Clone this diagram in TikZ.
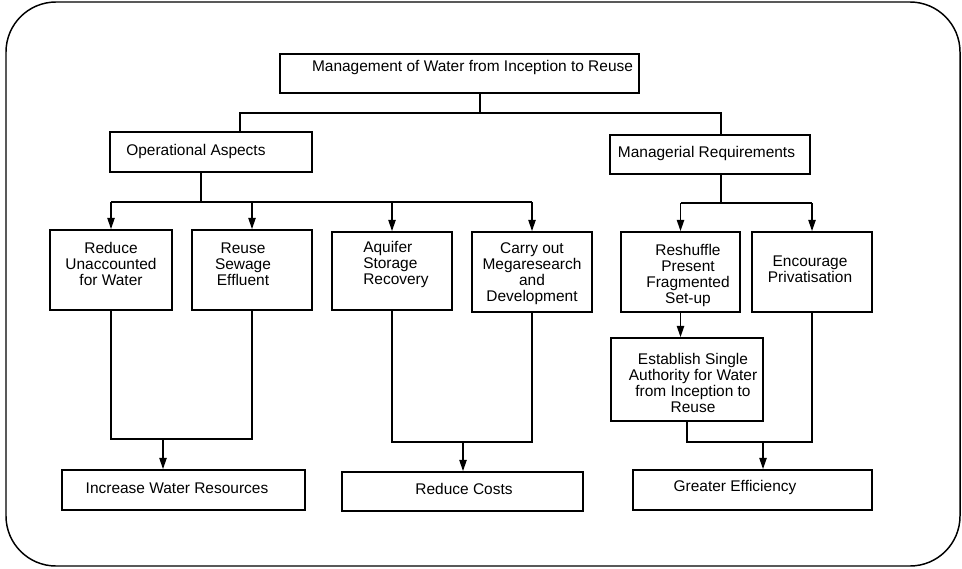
\documentclass[tikz,border=0pt]{standalone}
\usepackage{fontspec}
\setmainfont{Liberation Sans}
\usetikzlibrary{arrows.meta}
\begin{document}
\begin{tikzpicture}[x=0.75pt,y=-0.75pt,
  box/.style={draw, line width=1.3pt, inner sep=0pt},
  txt/.style={font=\fontsize{11.6pt}{12pt}\selectfont, align=center, inner sep=0pt},
  conn/.style={line width=1.2pt},
  arr/.style={line width=1.2pt, -{Triangle[length=8.5pt,width=5.5pt]}}]
\useasboundingbox (0,0) rectangle (962,568);
\draw[line width=1.1pt, rounded corners=37.5pt] (6,2) rectangle (960,566);

% boxes
\node[box, minimum width=269.25pt, minimum height=29.25pt] (title) at (459.5,73.5) {};
\node[box, minimum width=151.5pt, minimum height=30pt] (op) at (211,152) {};
\node[box, minimum width=150pt, minimum height=29.25pt] (mgr) at (710,154.5) {};
\node[box, minimum width=91.5pt, minimum height=60pt] (b1) at (111,270) {};
\node[box, minimum width=90pt, minimum height=60pt] (b2) at (252,270) {};
\node[box, minimum width=90pt, minimum height=58.5pt] (b3) at (392,271) {};
\node[box, minimum width=90pt, minimum height=60pt] (b4) at (532,272) {};
\node[box, minimum width=89.25pt, minimum height=60pt] (b5) at (680.5,272) {};
\node[box, minimum width=90pt, minimum height=60pt] (b6) at (812,272) {};
\node[box, minimum width=114pt, minimum height=62.25pt] (est) at (687,379.5) {};
\node[box, minimum width=182.25pt, minimum height=30pt] (inc) at (183.5,490) {};
\node[box, minimum width=180.75pt, minimum height=29.25pt] (red) at (462.5,491.5) {};
\node[box, minimum width=179.25pt, minimum height=30pt] (gre) at (752.5,490) {};

% texts
\node[txt] (ttitle) at (472.5,67) {Management of Water from Inception to Reuse};
\node[txt, anchor=west] (top) at (126,151) {Operational Aspects};
\node[txt] (tmgr) at (706.5,153) {Managerial Requirements};
\node[txt] (tb1) at (111,264) {Reduce\\Unaccounted\\for Water};
\node[txt] (tb2) at (243,264) {Reuse\\Sewage\\Effluent};
\node[txt, anchor=west, align=left] (tb3) at (363,264) {Aquifer\\Storage\\Recovery};
\node[txt] (tb4) at (532,274) {Carry out\\Megaresearch\\and\\Development};
\node[txt] (tb5) at (688,275) {Reshuffle\\Present\\Fragmented\\Set-up};
\node[txt] (tb6) at (810,269.5) {Encourage\\Privatisation};
\node[txt] (test) at (693,383) {Establish Single\\Authority for Water\\from Inception to\\Reuse};
\node[txt] (tinc) at (177,488) {Increase Water Resources};
\node[txt] (tred) at (464,489) {Reduce Costs};
\node[txt] (tgre) at (735,487) {Greater Efficiency};

% top connectors
\coordinate (j0) at (480,113);
\coordinate (jL) at (240,113);
\coordinate (jR) at (721,113);
\draw[conn] (title.south -| j0) -- (j0);
\draw[conn] (op.north -| jL) -- (jL) -- (jR) -- (mgr.north -| jR);

% operational branch
\coordinate (jo) at (201,202);
\draw[conn] (op.south -| jo) -- (jo);
\draw[conn] (jo -| b1.north) -- (jo -| b4.north);
\foreach \b in {b1,b2,b3,b4} \draw[arr] (jo -| \b.north) -- (\b.north);

% managerial branch
\coordinate (jm) at (721,203);
\draw[conn] (mgr.south -| jm) -- (jm);
\draw[conn] (jm -| b5.north) -- (jm -| b6.north);
\foreach \b in {b5,b6} \draw[arr] (jm -| \b.north) -- (\b.north);
\draw[arr] (b5.south) -- (est.north -| b5.south);

% bottom connectors
\coordinate (k1) at (163,439);
\draw[conn] (b1.south) -- (b1.south |- k1) -- (b2.south |- k1) -- (b2.south);
\draw[arr] (k1) -- (inc.north -| k1);
\coordinate (k2) at (463,442);
\draw[conn] (b3.south) -- (b3.south |- k2) -- (b4.south |- k2) -- (b4.south);
\draw[arr] (k2) -- (red.north -| k2);
\coordinate (k3) at (763,442);
\draw[conn] (est.south) -- (est.south |- k3) -- (b6.south |- k3) -- (b6.south);
\draw[arr] (k3) -- (gre.north -| k3);
\end{tikzpicture}
\end{document}
